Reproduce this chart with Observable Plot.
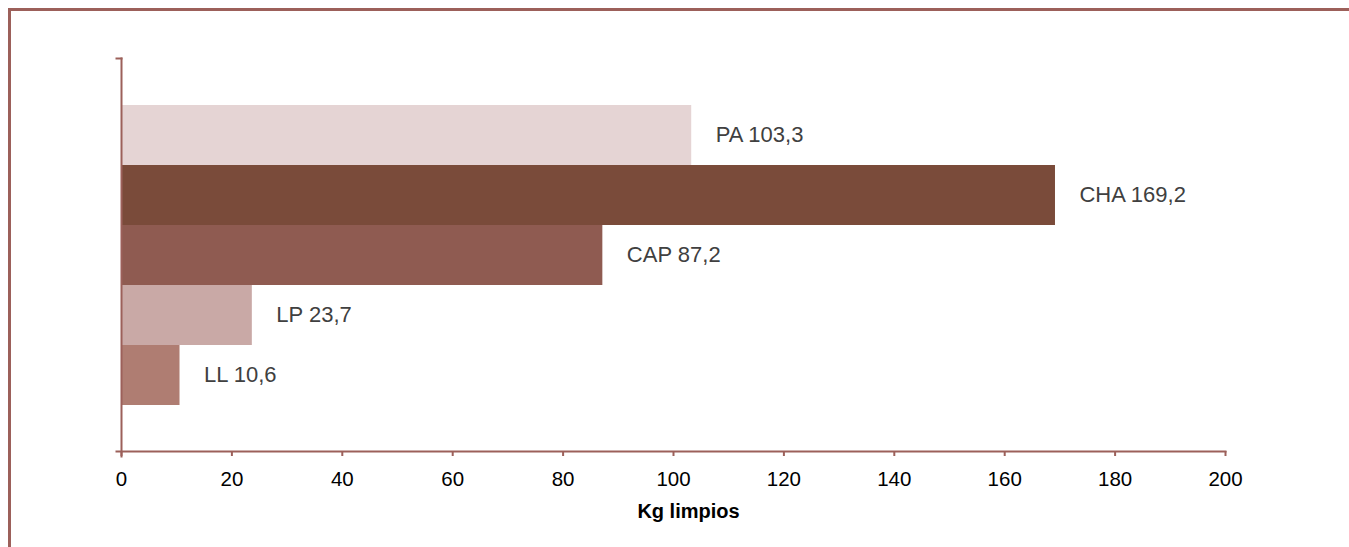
<!DOCTYPE html>
<html>
<head>
<meta charset="utf-8">
<script src="https://cdn.jsdelivr.net/npm/d3@7"></script>
<script src="https://cdn.jsdelivr.net/npm/@observablehq/plot@0.6"></script>
<style>
  html, body { margin: 0; padding: 0; background: #fff; overflow: hidden; }
  #wrap { position: relative; width: 1349px; height: 547px; }
  #border { position: absolute; left: 8px; top: 8px; width: 1400px; height: 600px;
            border: 3.5px solid #9c605a; box-sizing: border-box; pointer-events: none; }
  #chart { position: absolute; left: 0; top: 0; }
</style>
</head>
<body>
<div id="wrap">
  <div id="chart"></div>
  <div id="border"></div>
</div>
<script>
const categories = ["PA", "CHA", "CAP", "LP", "LL"];
const values = [103.3, 169.2, 87.2, 23.7, 10.6];
const barColors = ["#e5d4d4", "#7a4b3a", "#8f5b51", "#c9a9a6", "#af7d72"];
const xTicks = [0, 20, 40, 60, 80, 100, 120, 140, 160, 180, 200];
const xTitle = "Kg limpios";

const data = categories.map((c, i) => ({cat: c, value: values[i], color: barColors[i],
  label: `${c} ${String(values[i]).replace(".", ",")}`}));

const axisColor = "#9c605a";

const chart = Plot.plot({
  width: 1349,
  height: 547,
  marginLeft: 121,
  marginRight: 124,
  marginTop: 58,
  marginBottom: 96,
  style: {fontFamily: "'Liberation Sans', Arial, sans-serif", background: "transparent"},
  x: {domain: [0, 200]},
  y: {domain: categories, paddingInner: 0, paddingOuter: 0.742, axis: null},
  marks: [
    Plot.barX(data, {x: "value", y: "cat", fill: "color"}),
    Plot.text(data, {x: "value", y: "cat", text: "label", textAnchor: "start", dx: 24, dy: -1,
      fill: "#404040", fontSize: 22}),
    Plot.frame({anchor: "left", stroke: axisColor, strokeWidth: 2, insetBottom: -5}),
    Plot.frame({anchor: "bottom", stroke: axisColor, strokeWidth: 2, insetLeft: -5}),
    Plot.frame({anchor: "top", stroke: axisColor, strokeWidth: 2, insetLeft: -5, insetRight: 1104}),
    Plot.axisX({ticks: xTicks, tickSize: 5, stroke: axisColor, strokeWidth: 2, fill: "black",
      fontSize: 20.5, tickPadding: 15, label: null, tickFormat: d => String(d)}),
    Plot.text([xTitle], {frameAnchor: "bottom", dx: 15, dy: 66.5, fontWeight: "bold", fontSize: 20, fill: "black"})
  ]
});
document.getElementById("chart").appendChild(chart);
</script>
</body>
</html>
